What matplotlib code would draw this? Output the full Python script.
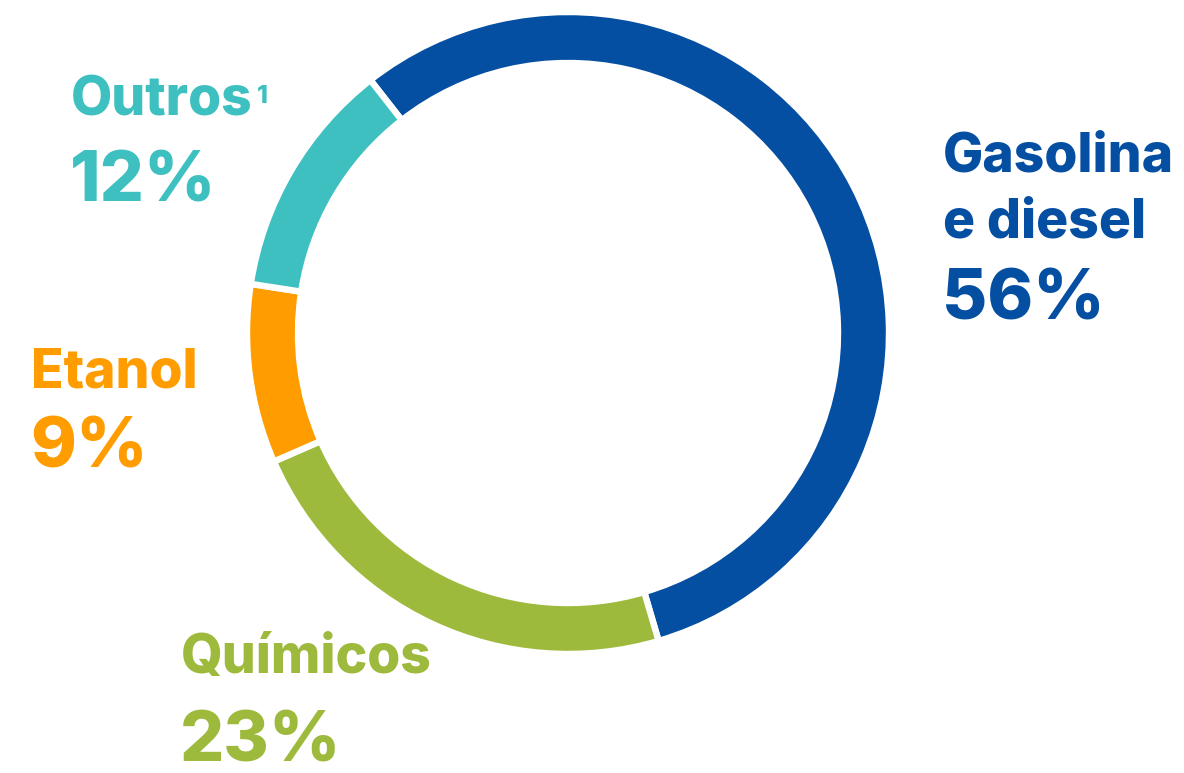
import matplotlib
matplotlib.use("Agg")
import matplotlib.pyplot as plt

# Share of products (%)
categories = ["Gasolina e diesel", "Químicos", "Etanol", "Outros"]
shares = [56, 23, 9, 12]
colors = ["#054FA3", "#9DBA3C", "#FF9C00", "#3FC0C0"]

W, H = 1184, 773
fig = plt.figure(figsize=(W / 100, H / 100), dpi=100)
ax = fig.add_axes([0, 0, 1, 1])

cx, cy, R, ring = 568, H - 333, 321, 51
ax.pie(shares, colors=colors, startangle=128, counterclock=False,
       center=(cx, cy), radius=R, frame=True,
       wedgeprops=dict(width=ring, edgecolor="white", linewidth=4.6))
ax.set_xlim(0, W)
ax.set_ylim(0, H)
ax.set_aspect("equal")
ax.axis("off")

FONT = ["Inter", "DejaVu Sans"]
LBL = 38.5
NUM = 50


def label(x, y_base, text, color, size):
    ax.text(x, H - y_base, text, color=color, fontsize=size,
            fontweight="heavy", family=FONT, ha="left", va="baseline")


# Gasolina e diesel
label(943, 172, "Gasolina", colors[0], LBL)
label(943, 238, "e diesel", colors[0], LBL)
label(942, 319, f"{shares[0]}%", colors[0], NUM)

# Químicos
label(181, 673, "Químicos", colors[1], LBL)
label(180, 761, f"{shares[1]}%", colors[1], NUM)

# Etanol
label(31, 387, "Etanol", colors[2], LBL)
label(30, 468, f"{shares[2]}%", colors[2], NUM)

# Outros with footnote mark
label(71, 116, "Outros", colors[3], LBL)
label(257, 103, "1", colors[3], 18)
label(70, 202, f"{shares[3]}%", colors[3], NUM)

fig.savefig("out.png", dpi=100, facecolor="white")
